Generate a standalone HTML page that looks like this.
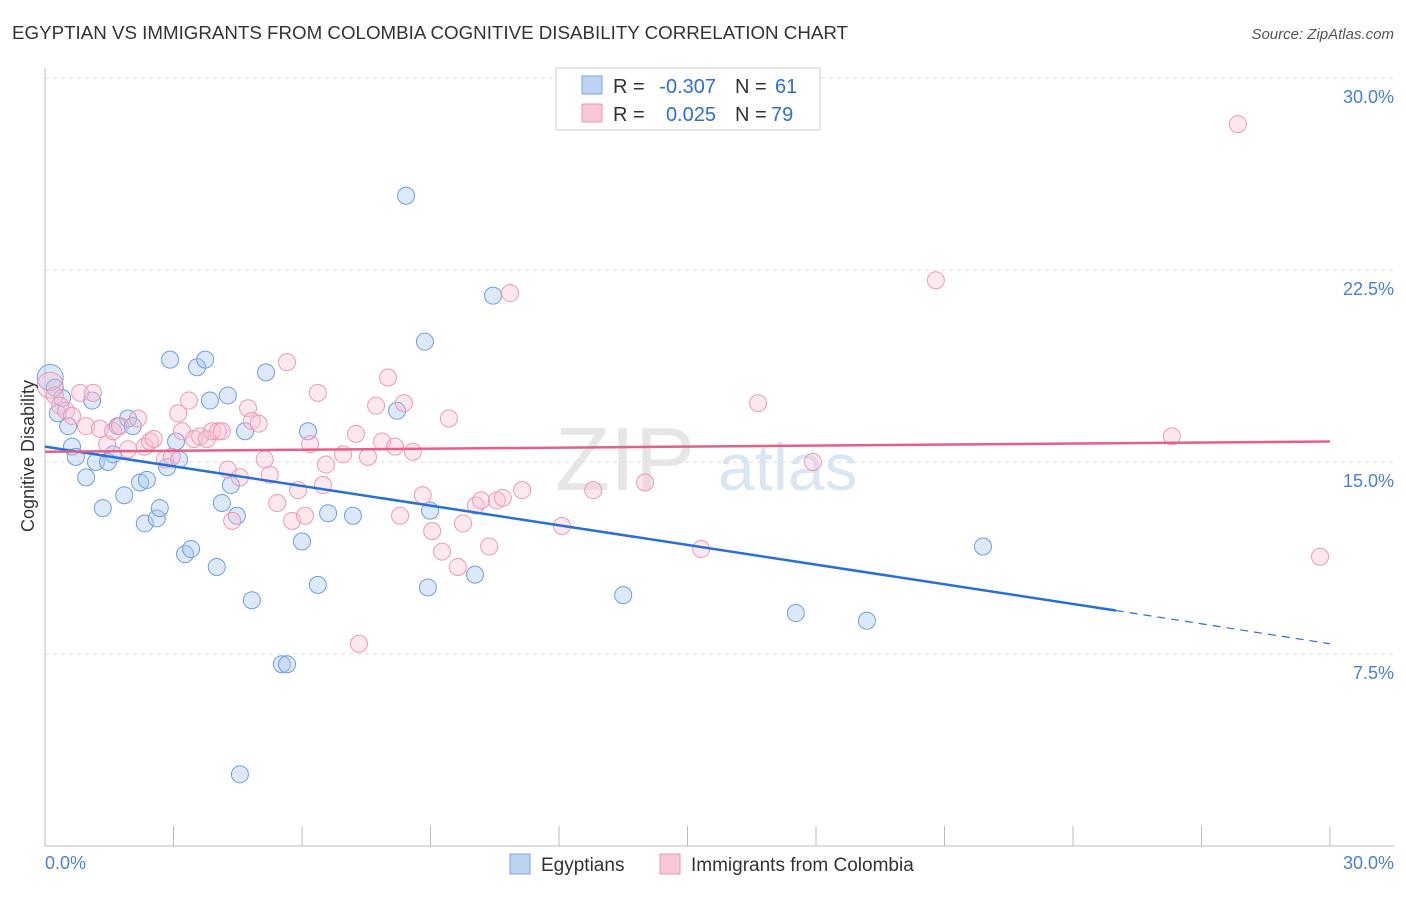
<!DOCTYPE html>
<html><head><meta charset="utf-8"><style>
body{margin:0;background:#fff;font-family:"Liberation Sans",sans-serif;}
svg text{font-family:"Liberation Sans",sans-serif;}
</style></head><body>
<svg id="c" width="1406" height="892">
<text x="12" y="39" font-size="18" fill="#333" textLength="836" lengthAdjust="spacingAndGlyphs">EGYPTIAN VS IMMIGRANTS FROM COLOMBIA COGNITIVE DISABILITY CORRELATION CHART</text>
<text x="1394" y="39" font-size="15" fill="#555" font-style="italic" text-anchor="end">Source: ZipAtlas.com</text>
<text x="555" y="490" font-size="90" fill="#e6e6e6" font-family="Liberation Serif">ZIP</text>
<text x="718" y="490" font-size="66" fill="#dbe6f4">atlas</text>
<g id="grid"></g><g id="pts"></g><g id="lines"></g>
<text transform="translate(34,456) rotate(-90)" font-size="18" fill="#333" text-anchor="middle">Cognitive Disability</text>
<text x="45" y="869" font-size="18" fill="#4a7fd4">0.0%</text>
<text x="1394" y="869" font-size="18" fill="#4a7fd4" text-anchor="end">30.0%</text>
<g>
<rect x="556" y="68" width="264" height="62" fill="#fff" stroke="#ccc"/>
<rect x="582" y="76" width="20" height="18" fill="#bcd3f2" stroke="#7aa6e0"/>
<rect x="582" y="104" width="20" height="18" fill="#f8c8d6" stroke="#e99ab4"/>
<text x="613" y="93" font-size="20" fill="#333">R =</text>
<text x="716" y="93" font-size="20" fill="#2f6fd0" text-anchor="end">-0.307</text>
<text x="735" y="93" font-size="20" fill="#333">N =</text>
<text x="775" y="93" font-size="20" fill="#2f6fd0">61</text>
<text x="613" y="121" font-size="20" fill="#333">R =</text>
<text x="716" y="121" font-size="20" fill="#2f6fd0" text-anchor="end">0.025</text>
<text x="735" y="121" font-size="20" fill="#333">N =</text>
<text x="771" y="121" font-size="20" fill="#2f6fd0">79</text>
</g>
<g>
<rect x="510" y="854" width="20" height="20" fill="#bcd3f2" stroke="#7aa6e0"/>
<text x="541" y="871" font-size="19" fill="#333">Egyptians</text>
<rect x="660" y="854" width="20" height="20" fill="#f8c8d6" stroke="#e99ab4"/>
<text x="691" y="871" font-size="19" fill="#333">Immigrants from Colombia</text>
</g>
</svg>
<script>
const yTicks=[7.5,15,22.5,30];
const blueX=[0.12,0.23,0.30,0.40,0.54,0.63,0.72,0.96,1.10,1.19,1.35,1.47,1.59,1.70,1.85,1.94,2.05,2.22,2.33,2.38,2.61,2.68,2.85,2.92,3.06,3.13,3.27,3.41,3.55,3.74,3.85,4.01,4.13,4.27,4.34,4.48,4.55,4.67,4.83,5.16,5.53,5.65,6.00,6.14,6.37,6.61,7.19,8.22,8.43,8.87,8.94,8.99,10.04,10.46,13.50,17.53,19.19,21.90];
const blueY=[18.3,17.9,16.9,17.5,16.4,15.6,15.2,14.4,17.4,15.0,13.2,15.0,15.3,16.4,13.7,16.7,16.4,14.2,12.6,14.3,12.8,13.2,14.8,19.0,15.8,15.1,11.4,11.6,18.7,19.0,17.4,10.9,13.4,17.6,14.1,12.9,2.8,16.2,9.6,18.5,7.1,7.1,11.9,16.2,10.2,13.0,12.9,17.0,25.4,19.7,10.1,13.1,10.6,21.5,9.8,9.1,8.8,11.7];
const pinkX=[0.12,0.23,0.35,0.49,0.63,0.82,0.96,1.12,1.28,1.45,1.59,1.75,1.94,2.17,2.33,2.45,2.54,2.80,2.96,3.11,3.20,3.36,3.48,3.62,3.78,3.90,4.04,4.13,4.27,4.37,4.55,4.74,4.83,4.99,5.13,5.25,5.42,5.65,5.77,5.91,6.07,6.19,6.37,6.49,6.56,6.96,7.26,7.33,7.54,7.73,7.87,8.01,8.17,8.29,8.38,8.59,8.82,9.04,9.27,9.43,9.64,9.76,10.06,10.18,10.37,10.55,10.69,10.86,11.14,12.07,12.80,14.01,15.32,16.65,17.93,20.80,26.31,27.85,29.77];
const pinkY=[18.0,17.6,17.2,17.0,16.8,17.7,16.4,17.7,16.3,15.7,16.2,16.4,15.5,16.7,15.6,15.8,15.9,15.1,15.2,16.9,16.2,17.4,15.9,16.0,15.9,16.2,16.2,16.2,14.7,12.7,14.4,17.1,16.6,16.5,15.1,14.5,13.4,18.9,12.7,13.9,12.9,15.7,17.7,14.1,14.9,15.3,16.1,7.9,15.2,17.2,15.8,18.3,15.6,12.9,17.3,15.4,13.7,12.3,11.5,16.7,10.9,12.6,13.3,13.5,11.7,13.5,13.6,21.6,13.9,12.5,13.9,14.2,11.6,17.3,15.0,22.1,16.0,28.2,11.3];
const blueTrend=[15.6,9.2,7.9];
const pinkTrend=[15.4,15.8];
const X=v=>45+v*42.83, Y=v=>846-v*25.6;
const NS='http://www.w3.org/2000/svg';
function mk(t,a,p){const e=document.createElementNS(NS,t);for(const k in a)e.setAttribute(k,a[k]);p.appendChild(e);return e;}
const grid=document.getElementById('grid'),pts=document.getElementById('pts'),lines=document.getElementById('lines');
const ax=mk('line',{x1:45,y1:68,x2:45,y2:846,stroke:'#bbb'},grid);


const bx=mk('line',{x1:45,y1:846,x2:1394,y2:846,stroke:'#bbb'},grid);


for(let i=0;i<=10;i++){const t=mk('line',{x1:45+i*128.5,y1:826,x2:45+i*128.5,y2:846,stroke:'#bbb'},grid);

}
yTicks.forEach(v=>{const g=mk('line',{x1:45,y1:Y(v),x2:1394,y2:Y(v),stroke:'#ddd','stroke-dasharray':'4,4'},grid);


const t=mk('text',{x:1394,y:Y(v)+25,'font-size':18,fill:'#4a7fd4','text-anchor':'end'},grid);t.textContent=v.toFixed(1)+'%';

});
blueX.forEach((x,i)=>{const c=mk('circle',{cx:X(x),cy:Y(blueY[i]),r:i==0?13:8.5,fill:'rgba(170,200,240,0.4)',stroke:'#6f9ee0','stroke-width':1},pts);

});
pinkX.forEach((x,i)=>{const c=mk('circle',{cx:X(x),cy:Y(pinkY[i]),r:i==0?13:8.5,fill:'rgba(248,190,208,0.35)',stroke:'#ec9ab5','stroke-width':1},pts);

});
const bl=mk('line',{x1:X(0),y1:Y(blueTrend[0]),x2:X(25),y2:Y(blueTrend[1]),stroke:'#2a6fd6','stroke-width':2.5},lines);


const bd=mk('line',{x1:X(25),y1:Y(blueTrend[1]),x2:X(30),y2:Y(blueTrend[2]),stroke:'#2a6fd6','stroke-width':1.2,'stroke-dasharray':'8,6'},lines);


const pl=mk('line',{x1:X(0),y1:Y(pinkTrend[0]),x2:X(30),y2:Y(pinkTrend[1]),stroke:'#e4608a','stroke-width':2.5},lines);


</script>
</body></html>
